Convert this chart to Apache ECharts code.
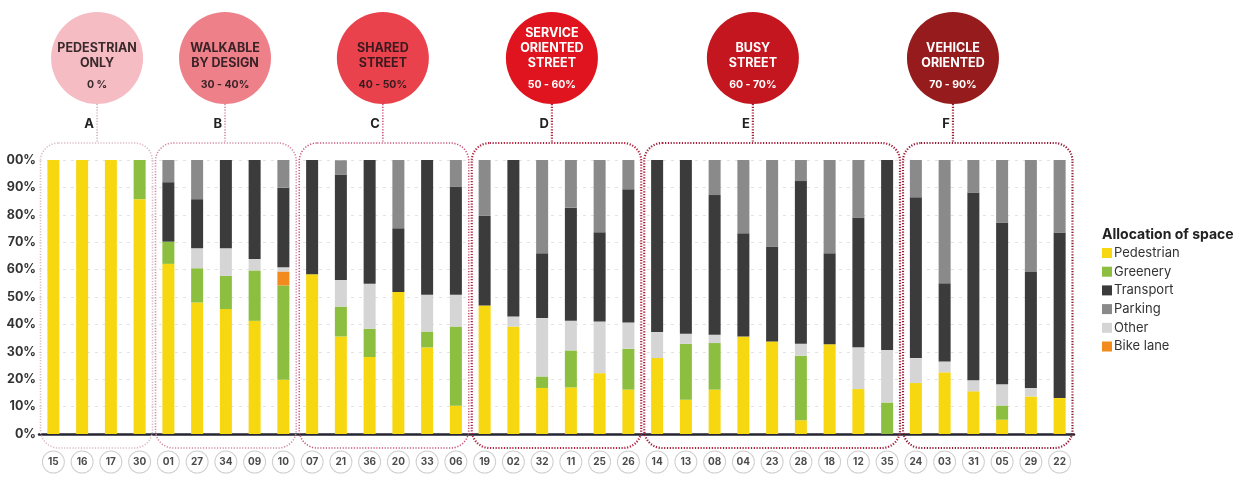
<!DOCTYPE html>
<html>
<head>
<meta charset="utf-8">
<script src="https://cdn.jsdelivr.net/npm/echarts@6/dist/echarts.min.js"></script>
<style>
html,body{margin:0;padding:0;background:#fff;}
#chart{width:1248px;height:477px;}
</style>
</head>
<body>
<div id="chart"></div>
<script>
// ---- data ----
var categories = ['15','16','17','30','01','27','34','09','10','07','21','36','20','33','06','19','02','32','11','25','26','14','13','08','04','23','28','18','12','35','24','03','31','05','29','22'];
var pedestrian = [100,100,100,85.7, 62.1,48,45.6,41.3,19.8, 58.3,35.6,28.1,51.8,31.6,10.3, 46.9,39.2,16.8,17,22.2,16.2, 27.7,12.5,16.2,35.6,33.8,5,32.8,16.4,0, 18.6,22.5,15.6,5.2,13.7,13.1];
var greenery   = [0,0,0,14.3, 8.1,12.5,12.1,18.4,34.4, 0,10.9,10.3,0,5.8,28.9, 0,0,4.2,13.5,0,14.9, 0,20.4,17,0,0,23.6,0,0,11.5, 0,0,0,5.2,0,0];
var bikeLane   = [0,0,0,0, 0,0,0,0,5.1, 0,0,0,0,0,0, 0,0,0,0,0,0, 0,0,0,0,0,0,0,0,0, 0,0,0,0,0,0];
var other      = [0,0,0,0, 0,7.3,10.1,4.2,1.6, 0,9.7,16.4,0,13.4,11.6, 0,3.7,21.3,10.8,18.9,9.6, 9.5,3.7,3,0,0,4.3,0,15.3,19.2, 9.1,4,4,7.8,3.1,0];
var transport  = [0,0,0,0, 21.7,17.9,32.2,36.1,29, 41.7,38.5,45.2,23.3,49.2,39.5, 32.7,57.1,23.7,41.3,32.5,48.6, 62.8,63.4,51,37.7,34.6,59.4,33.2,47.3,69.3, 58.7,28.5,68.5,59,42.3,60.4];
var parking    = [0,0,0,0, 8.1,14.3,0,0,10.1, 0,5.2,0,24.9,0,9.7, 20.4,0,34,17.4,26.4,10.7, 0,0,12.8,26.7,31.6,7.7,34,21,0, 13.6,45,11.9,22.8,40.9,26.5];
var yTicks = [0,10,20,30,40,50,60,70,80,90,100];
var yTickLabels = ['0%','10%','20%','30%','40%','50%','60%','70%','80%','90%','00%'];

var groupLetters = ['A','B','C','D','E','F'];
var groupTitles = [['PEDESTRIAN','ONLY'],['WALKABLE','BY DESIGN'],['SHARED','STREET'],['SERVICE','ORIENTED','STREET'],['BUSY','STREET'],['VEHICLE','ORIENTED']];
var groupRanges = ['0 %','30 - 40%','40 - 50%','50 - 60%','60 - 70%','70 - 90%'];
var groupFirst = [0,4,9,15,21,30];
var groupLast  = [3,8,14,20,29,35];
var groupAnchor = [1.52,5.97,11.46,17.34,24.33,31.29];

var seriesNames = ['Pedestrian','Greenery','Bike lane','Other','Transport','Parking'];
var seriesData = [pedestrian,greenery,bikeLane,other,transport,parking];
var colors = {'Pedestrian':'#f7d70f','Greenery':'#8cbf3f','Bike lane':'#f28a1e','Other':'#d5d5d5','Transport':'#3b3b3b','Parking':'#8a8a8a'};
var circleColors = ['#f5bcc3','#ee808a','#e9424d','#e0141e','#c4161e','#951b1c'];
var circleText = ['#3a2a2c','#3a2226','#3a1a1e','#ffffff','#ffffff','#ffffff'];
var boxColors = ['#dcb8c8','#d08aa4','#c5557a','#b0223f','#a41d3a','#921c36'];

var chart = echarts.init(document.getElementById('chart'), null, {renderer:'canvas'});
var FONT = 'Inter, Roboto, "DejaVu Sans", sans-serif';

var series = seriesNames.map(function(n,i){
  return {
    name:n, type:'bar', stack:'total', barWidth:12,
    data: seriesData[i],
    itemStyle:{color:colors[n]},
    emphasis:{disabled:true}
  };
});

chart.setOption({
  animation:false,
  textStyle:{fontFamily:FONT},
  grid:{left:39, right:174, top:160, bottom:43, containLabel:false},
  title:{text:'Allocation of space', left:1097, top:223,
    textStyle:{fontSize:14, fontWeight:'bold', color:'#222', fontFamily:FONT}},
  legend:{
    orient:'vertical', left:1097, top:240,
    data:['Pedestrian','Greenery','Transport','Parking','Other','Bike lane'],
    itemWidth:10, itemHeight:10, itemGap:2.7,
    icon:'rect', selectedMode:false,
    textStyle:{fontSize:13, color:'#333', fontFamily:FONT, lineHeight:16, padding:[0,0,0,-3]}
  },
  xAxis:{
    type:'category', data:categories,
    axisLine:{lineStyle:{color:'#262633', width:2.5}},
    axisTick:{show:false},
    axisLabel:{
      interval:0, margin:28, fontSize:10, fontWeight:'bold', color:'#4a4a4a', fontFamily:FONT,
      width:21, height:21, lineHeight:21, align:'center', verticalAlign:'middle',
      borderColor:'#cfcfcf', borderWidth:1, borderRadius:11, backgroundColor:'#fff'
    }
  },
  yAxis:{
    type:'value', min:0, max:100, interval:10,
    axisLine:{show:false}, axisTick:{show:false},
    axisLabel:{margin:3, fontSize:12.5, fontWeight:'bold', color:'#333', fontFamily:FONT,
      formatter:function(v){ var k = yTicks.indexOf(v); return k>=0 ? yTickLabels[k] : ''; }},
    splitLine:{lineStyle:{color:'#e3e3e3', type:[3,5], width:1}}
  },
  series:series
});

function buildGraphics(){
  var x0 = chart.convertToPixel({xAxisIndex:0}, 0);
  var x1 = chart.convertToPixel({xAxisIndex:0}, 1);
  var band = x1 - x0;
  var yTop = chart.convertToPixel({yAxisIndex:0}, 100);
  var yBot = chart.convertToPixel({yAxisIndex:0}, 0);
  var els = [];
  var circleCY = 58, circleR = 46;
  for (var g=0; g<groupLetters.length; g++){
    var left = chart.convertToPixel({xAxisIndex:0}, groupFirst[g]) - band/2 + 1.5;
    var right = chart.convertToPixel({xAxisIndex:0}, groupLast[g]) + band/2 - 1.5;
    var bTop = yTop - 17, bBot = yBot + 14;
    var dotW = g >= 3 ? 2.2 : 1.6;
    els.push({type:'rect', z:100, silent:true,
      shape:{x:left, y:bTop, width:right-left, height:bBot-bTop, r:18},
      style:{fill:null, stroke:boxColors[g], lineWidth:dotW, lineDash:[1.2, 1.6]}});
    var cx = x0 + groupAnchor[g]*band;
    els.push({type:'line', z:100, silent:true,
      shape:{x1:cx, y1:circleCY+circleR, x2:cx, y2:bTop},
      style:{stroke:g<1 ? '#c8b4bc' : boxColors[g], lineWidth:dotW, lineDash:[1.2,1.6]}});
    els.push({type:'circle', z:101, silent:true,
      shape:{cx:cx, cy:circleCY, r:circleR},
      style:{fill:circleColors[g]}});
    var lines = groupTitles[g];
    for (var k=0;k<lines.length;k++){
      els.push({type:'text', z:102, silent:true,
        style:{text:lines[k], x:cx, y:63 - (lines.length-1-k)*15, align:'center', verticalAlign:'middle',
          fill:circleText[g], font:'bold 12.5px ' + FONT}});
    }
    els.push({type:'text', z:102, silent:true,
      style:{text:groupRanges[g], x:cx, y:85, align:'center', verticalAlign:'middle',
        fill:circleText[g], font:'bold 10.5px ' + FONT}});
    els.push({type:'text', z:102, silent:true,
      style:{text:groupLetters[g], x:cx-3, y:124, align:'right', verticalAlign:'middle',
        fill:'#222', font:'bold 13px ' + FONT}});
  }
  chart.setOption({graphic:{elements:els}});
}
buildGraphics();
</script>
</body>
</html>
